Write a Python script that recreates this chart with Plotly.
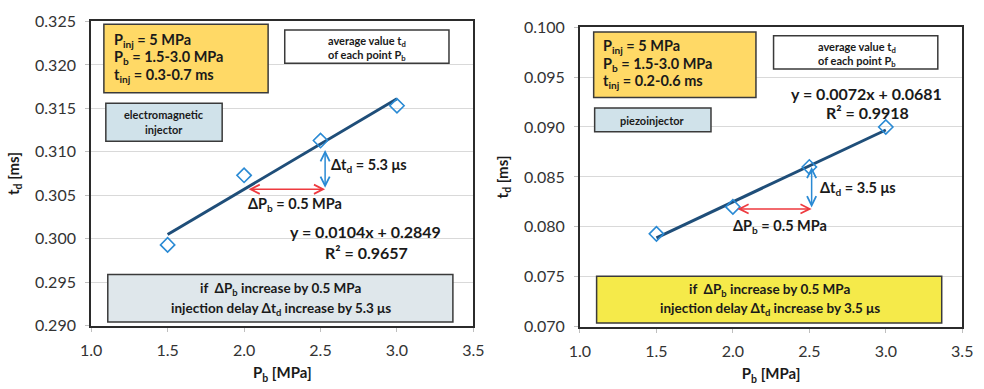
import plotly.graph_objects as go

W, H = 984, 389

# ---------------- data ----------------
pb = [1.5, 2.0, 2.5, 3.0]
td_em = [0.2993, 0.3073, 0.3113, 0.3153]
td_pz = [0.0793, 0.0820, 0.0860, 0.0900]
fit_em = [0.0104, 0.2849]
fit_pz = [0.0072, 0.0681]
r2_em = 0.9657
r2_pz = 0.9918
x_ticks = [1.0, 1.5, 2.0, 2.5, 3.0, 3.5]
y_ticks_em = [0.290, 0.295, 0.300, 0.305, 0.310, 0.315, 0.320, 0.325]
y_ticks_pz = [0.070, 0.075, 0.080, 0.085, 0.090, 0.095, 0.100]
dP_em = [2.02, 2.53]
dt_em = [0.3057, 0.3102]
dP_pz = [2.02, 2.515]
dt_pz = [0.0818, 0.0860]

FONT = "Lato"
TXT = "#1a1a1a"
BLUE = "#2a8ad4"
RED = "#ee3a3f"
NAVY = "#1f4e79"


def px(x):
    return x / W


def py(y):
    return 1 - y / H


fig = go.Figure()

for xa, ya, ys, fit in [("x", "y", td_em, fit_em), ("x2", "y2", td_pz, fit_pz)]:
    xs = [pb[0], pb[-1]]
    fig.add_trace(go.Scatter(x=xs, y=[fit[0] * v + fit[1] for v in xs], mode="lines",
                             line=dict(color=NAVY, width=3), xaxis=xa, yaxis=ya,
                             showlegend=False, hoverinfo="skip"))
    fig.add_trace(go.Scatter(x=pb, y=ys, mode="markers",
                             marker=dict(symbol="diamond-open", size=11, color=BLUE,
                                         line=dict(width=1.6, color=BLUE)),
                             xaxis=xa, yaxis=ya, showlegend=False))

axis_common = dict(showline=True, linecolor="#2b2b2b", linewidth=2,
                   mirror=True, ticks="outside", ticklen=4, tickcolor="#bfbfbf",
                   tickfont=dict(family=FONT, size=16, color="#333333"), zeroline=False)
title_font = dict(size=15, family=FONT, color=TXT)

fig.update_layout(
    width=W, height=H, margin=dict(l=0, r=0, t=0, b=0),
    paper_bgcolor="white", plot_bgcolor="white",
    font=dict(family=FONT, color=TXT),
    xaxis=dict(domain=[px(82), px(473)], range=[1.0, 3.5], tickvals=x_ticks,
               tickformat=".1f", anchor="y", showgrid=False, ticklabelstandoff=5,
               title=dict(text="<b>P<sub>b</sub> [MPa]</b>", font=title_font, standoff=10),
               **axis_common),
    yaxis=dict(domain=[py(332), py(12)], range=[0.290, 0.325], tickvals=y_ticks_em,
               tickformat=".3f", anchor="x", showgrid=True, gridcolor="#d9d9d9", gridwidth=1,
               ticklabelstandoff=6,
               title=dict(text="<b>t<sub>d</sub> [ms]</b>", font=title_font, standoff=12),
               **axis_common),
    xaxis2=dict(domain=[px(582), px(973)], range=[1.0, 3.5], tickvals=x_ticks,
                tickformat=".1f", anchor="y2", showgrid=False, ticklabelstandoff=5,
                title=dict(text="<b>P<sub>b</sub> [MPa]</b>", font=title_font, standoff=10),
                **axis_common),
    yaxis2=dict(domain=[py(333), py(18)], range=[0.070, 0.100], tickvals=y_ticks_pz,
                tickformat=".3f", anchor="x2", showgrid=True, gridcolor="#d9d9d9", gridwidth=1,
                ticklabelstandoff=6,
                title=dict(text="<b>t<sub>d</sub> [ms]</b>", font=title_font, standoff=12),
                **axis_common),
)

shapes = []
ann = []


def box(x0, y0, x1, y1, fill):
    shapes.append(dict(type="rect", xref="paper", yref="paper",
                       x0=px(x0), x1=px(x1), y0=py(y1), y1=py(y0),
                       fillcolor=fill, line=dict(color="#3a3a3a", width=1.5), layer="above"))


def text(x, y, s, size, xanchor="center"):
    ann.append(dict(xref="paper", yref="paper", x=px(x), y=py(y), text="<b>" + s + "</b>",
                    showarrow=False, xanchor=xanchor, yanchor="middle",
                    font=dict(family=FONT, size=size, color=TXT)))


def arrow(xa, ya, x0, y0, x1, y1, color):
    ann.append(dict(xref=xa, yref=ya, axref=xa, ayref=ya, x=x1, y=y1, ax=x0, ay=y0,
                    text="", showarrow=True, arrowhead=5, startarrowhead=5,
                    arrowside="end+start", arrowsize=1.2, startarrowsize=1.2,
                    arrowwidth=1.5, arrowcolor=color, standoff=0, startstandoff=0))


# ---- left chart ----
box(95, 15, 263, 87, "#ffd966")
text(103, 32, "P<sub>inj</sub> = 5 MPa", 14.5, "left")
text(103, 50, "P<sub>b</sub> = 1.5-3.0 MPa", 14.5, "left")
text(103, 69, "t<sub>inj</sub> = 0.3-0.7 ms", 14.5, "left")
box(280, 21, 448, 56, "white")
text(364, 33, "average value t<sub>d</sub>", 11)
text(364, 48, "of each point P<sub>b</sub>", 11)
box(97, 98, 216, 138, "#d0e2ea")
text(156.5, 110, "electromagnetic", 11)
text(156.5, 126, "injector", 11)
arrow("x", "y", dP_em[0], dt_em[0], dP_em[1], dt_em[0], RED)
arrow("x", "y", dP_em[1], dt_em[0], dP_em[1], dt_em[1], BLUE)
text(325, 163, "Δt<sub>d</sub> = 5.3 μs", 14.5, "left")
text(290, 205, "ΔP<sub>b</sub> = 0.5 MPa", 14.5)
text(363, 233, "y = %.4fx + %.4f" % (fit_em[0], fit_em[1]), 16)
text(364, 255, "R² = %.4f" % r2_em, 16)
box(99, 278, 452, 328, "#dfe7eb")
text(276, 293, "if  ΔP<sub>b</sub> increase by 0.5 MPa", 13.5)
text(276, 314, "injection delay Δt<sub>d</sub> increase by 5.3 μs", 13.5)

# ---- right chart ----
box(596, 23, 762, 92, "#ffd966")
text(603, 38, "P<sub>inj</sub> = 5 MPa", 14.5, "left")
text(603, 57, "P<sub>b</sub> = 1.5-3.0 MPa", 14.5, "left")
text(603, 75, "t<sub>inj</sub> = 0.2-0.6 ms", 14.5, "left")
box(780, 27, 948, 62, "white")
text(865, 39, "average value t<sub>d</sub>", 11)
text(865, 54, "of each point P<sub>b</sub>", 11)
text(875, 88, "y = %.4fx + %.4f" % (fit_pz[0], fit_pz[1]), 16)
text(876, 108, "R² = %.4f" % r2_pz, 16)
box(597, 103, 716, 128, "#d0e2ea")
text(656.5, 116, "piezoinjector", 11)
arrow("x2", "y2", dP_pz[0], dt_pz[0], dP_pz[1], dt_pz[0], RED)
arrow("x2", "y2", dP_pz[1], dt_pz[0], dP_pz[1], dt_pz[1], BLUE)
text(825, 188, "Δt<sub>d</sub> = 3.5 μs", 14.5, "left")
text(787, 228, "ΔP<sub>b</sub> = 0.5 MPa", 14.5)
box(599, 280, 952, 329, "#f5ea4a")
text(776, 294, "if  ΔP<sub>b</sub> increase by 0.5 MPa", 13.5)
text(776, 314, "injection delay Δt<sub>d</sub> increase by 3.5 μs", 13.5)

fig.update_layout(shapes=shapes, annotations=ann)
fig.write_html("out.html")
